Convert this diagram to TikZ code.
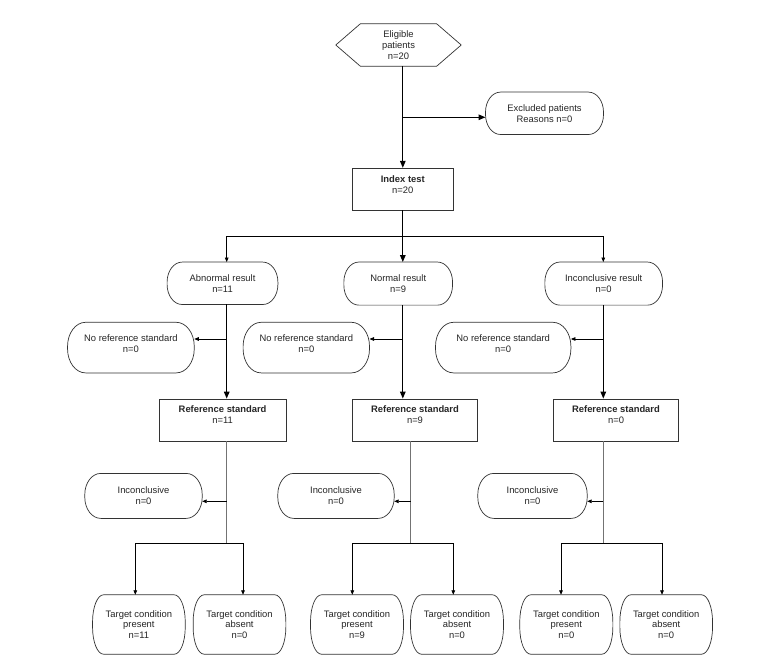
\documentclass[tikz,border=0pt]{standalone}
\usepackage{fontspec}
\setmainfont{Liberation Sans}
\usetikzlibrary{arrows.meta}

\tikzset{
  txt/.style={font=\fontsize{9.4}{10.8}\selectfont, text=black!85, align=center, inner sep=0pt},
  sh/.style={txt, rectangle},
  rbox/.style={txt, rectangle, draw=black!80, line width=0.7pt},
  outl/.style={draw=black!80, line width=0.7pt},
  big/.style={line width=1.3pt, -{Triangle[length=7pt,width=5.5pt]}},
  sm/.style={line width=0.8pt, -{Triangle[length=4.5pt,width=3.6pt]}},
  grayln/.style={line width=0.8pt, draw=black!55},
}
\newcommand{\stadium}[3]{%
  \draw[outl] ([xshift=#2]#1.north west) -- ([xshift=-#2]#1.north east)
    arc[start angle=90,end angle=0,x radius=#2,y radius=#3]
    -- ([yshift=#3]#1.south east)
    arc[start angle=0,end angle=-90,x radius=#2,y radius=#3]
    -- ([xshift=#2]#1.south west)
    arc[start angle=270,end angle=180,x radius=#2,y radius=#3]
    -- ([yshift=-#3]#1.north west)
    arc[start angle=180,end angle=90,x radius=#2,y radius=#3] -- cycle;}
\newcommand{\topbox}[4]{\parbox[c][#1][t]{#2}{\centering\vspace{#3}#4}}

\begin{document}
\begin{tikzpicture}[x=1pt,y=1pt]
\fill[white] (0,0) rectangle (771,-668);
\useasboundingbox (0,0) rectangle (771,-668);

% x positions of the vertical lines
\coordinate (t1) at (226.7,0);
\coordinate (t2) at (402.8,0);
\coordinate (t3) at (603.3,0);
\coordinate (u2) at (410.7,0);

% eligible (hexagon)
\node[sh, minimum width=125pt, minimum height=42pt] (elig) at (398.5,-45) {Eligible\\patients\\n=20};
\draw[outl] (elig.west) -- ([xshift=24.5pt]elig.north west) -- ([xshift=-24.5pt]elig.north east)
  -- (elig.east) -- ([xshift=-24.5pt]elig.south east) -- ([xshift=24.5pt]elig.south west) -- cycle;

% excluded
\node[sh, minimum width=117.6pt, minimum height=42pt] (excl) at (544.5,-113.3) {Excluded patients\\Reasons n=0};
\stadium{excl}{15pt}{20pt}

% index test
\node[rbox, minimum width=101pt, minimum height=41.7pt] (idx) at (402.8,-189.1)
  {\topbox{41.7pt}{101pt}{7.5pt}{\textbf{Index test}\\n=20}};

% results
\node[sh, minimum width=110.4pt, minimum height=42pt] (abn) at (222.5,-283.3) {Abnormal result\\n=11};
\node[sh, minimum width=108.3pt, minimum height=42.7pt] (nor) at (398.2,-283.6) {Normal result\\n=9};
\node[sh, minimum width=117.3pt, minimum height=42.7pt] (inc) at (603.7,-283.6) {Inconclusive result\\n=0};
\stadium{abn}{15pt}{20pt}
\stadium{nor}{15pt}{20pt}
\stadium{inc}{15pt}{20pt}

% no reference standard
\node[sh, minimum width=126.3pt, minimum height=50.2pt] (nrs1) at (130.9,-347.6) {No reference standard\\n=0\\[-2.4pt]};
\node[sh, minimum width=126pt, minimum height=50.2pt] (nrs2) at (306.3,-347.6) {No reference standard\\n=0\\[-2.4pt]};
\node[sh, minimum width=135pt, minimum height=50.2pt] (nrs3) at (503.2,-347.6) {No reference standard\\n=0\\[-2.4pt]};
\stadium{nrs1}{18pt}{24pt}
\stadium{nrs2}{18pt}{24pt}
\stadium{nrs3}{18pt}{24pt}

% reference standard
\node[rbox, minimum width=126.7pt, minimum height=42pt] (rs1) at (222.6,-420)
  {\topbox{42pt}{126.7pt}{7pt}{\textbf{Reference standard}\\n=11}};
\node[rbox, minimum width=125pt, minimum height=42pt] (rs2) at (415,-420)
  {\topbox{42pt}{125pt}{7pt}{\textbf{Reference standard}\\n=9}};
\node[rbox, minimum width=125.4pt, minimum height=42pt] (rs3) at (616,-420)
  {\topbox{42pt}{125.4pt}{7pt}{\textbf{Reference standard}\\n=0}};

% inconclusive
\node[sh, minimum width=117pt, minimum height=44.6pt] (inq1) at (143.5,-495.9) {Inconclusive\\n=0};
\node[sh, minimum width=116pt, minimum height=44.6pt] (inq2) at (336,-495.9) {Inconclusive\\n=0};
\node[sh, minimum width=109pt, minimum height=44.6pt] (inq3) at (532.5,-495.9) {Inconclusive\\n=0};
\stadium{inq1}{16pt}{21pt}
\stadium{inq2}{16pt}{21pt}
\stadium{inq3}{16pt}{21pt}

% targets
\node[sh, minimum width=92.3pt, minimum height=59pt] (tg1) at (138.9,-624.5) {Target condition\\present\\n=11};
\node[sh, minimum width=92.3pt, minimum height=59pt] (tg2) at (239.5,-624.5) {Target condition\\absent\\n=0};
\node[sh, minimum width=92.6pt, minimum height=59pt] (tg3) at (357,-624.5) {Target condition\\present\\n=9};
\node[sh, minimum width=92.6pt, minimum height=59pt] (tg4) at (457,-624.5) {Target condition\\absent\\n=0};
\node[sh, minimum width=92.7pt, minimum height=59pt] (tg5) at (566.3,-624.5) {Target condition\\present\\n=0};
\node[sh, minimum width=92.3pt, minimum height=59pt] (tg6) at (666.2,-624.5) {Target condition\\absent\\n=0};
\foreach \n in {tg1,tg2,tg3,tg4,tg5,tg6} {\stadium{\n}{11pt}{27pt}}

% ---------- connectors ----------
\draw[big] (elig.south -| t2) -- (idx.north -| t2);
\draw[big] ([yshift=-4pt]excl.west -| t2) -- ([yshift=-4pt]excl.west);

\coordinate (br) at (402.8,-236);
\draw[big] (idx.south -| t2) -- (nor.north -| t2);
\draw[sm] (br) -| (abn.north -| t1);
\draw[sm] (br) -| (inc.north -| t3);

\draw[big] (abn.south -| t1) -- (rs1.north -| t1);
\draw[big] (nor.south -| t2) -- (rs2.north -| t2);
\draw[big] (inc.south -| t3) -- (rs3.north -| t3);

\draw[sm] ([yshift=8.6pt]nrs1.east -| t1) -- ([yshift=8.6pt]nrs1.east);
\draw[sm] ([yshift=8.6pt]nrs2.east -| t2) -- ([yshift=8.6pt]nrs2.east);
\draw[sm] ([yshift=8.6pt]nrs3.east -| t3) -- ([yshift=8.6pt]nrs3.east);

\coordinate (b1) at (226.7,-543.3);
\coordinate (b2) at (410.7,-543.3);
\coordinate (b3) at (603.3,-543.3);
\draw[grayln] (rs1.south -| t1) -- (b1);
\draw[grayln] (rs2.south -| u2) -- (b2);
\draw[grayln] (rs3.south -| t3) -- (b3);

\draw[sm] ([yshift=-5.4pt]inq1.east -| t1) -- ([yshift=-5.4pt]inq1.east);
\draw[sm] ([yshift=-5.4pt]inq2.east -| u2) -- ([yshift=-5.4pt]inq2.east);
\draw[sm] ([yshift=-5.4pt]inq3.east -| t3) -- ([yshift=-5.4pt]inq3.east);

\draw[sm] (b1) -| ([xshift=-3.6pt]tg1.north);
\draw[sm] (b1) -| ([xshift=3.5pt]tg2.north);
\draw[sm] (b2) -| ([xshift=-4.7pt]tg3.north);
\draw[sm] (b2) -| ([xshift=-3.7pt]tg4.north);
\draw[sm] (b3) -| ([xshift=-5.3pt]tg5.north);
\draw[sm] (b3) -| ([xshift=-4.2pt]tg6.north);
\end{tikzpicture}
\end{document}
